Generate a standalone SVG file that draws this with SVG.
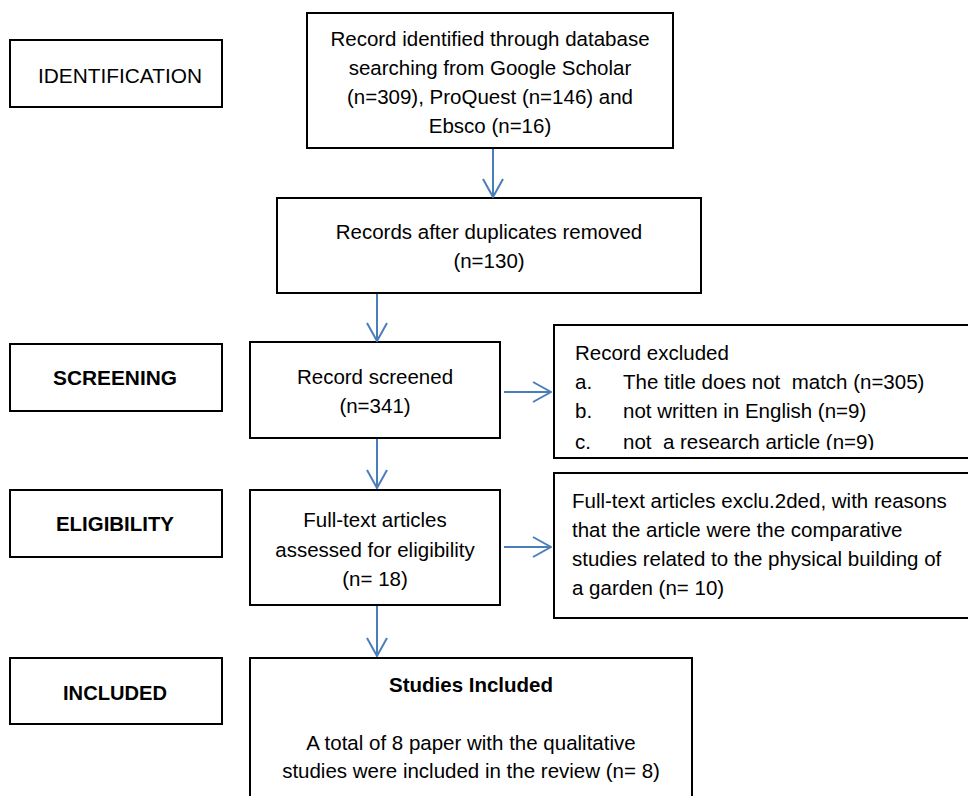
<svg xmlns="http://www.w3.org/2000/svg" width="968" height="796" viewBox="0 0 968 796">
<style>
.box{fill:#fff;stroke:#000;stroke-width:2}
text{font-family:"Liberation Sans",Arial,sans-serif;font-size:20.5px;fill:#000}
.c{text-anchor:middle}
.b{font-weight:bold}
.con{stroke:#4a7ebb;stroke-width:2;fill:none;marker-end:url(#ah)}
</style>
<defs>
<marker id="ah" markerUnits="userSpaceOnUse" viewBox="0 0 20 22" refX="19" refY="11" markerWidth="20" markerHeight="22" orient="auto">
<path d="M1,1 L19,11 L1,21" fill="none" stroke="#4a7ebb" stroke-width="2"/>
</marker>
<clipPath id="clipEx"><rect x="554" y="325" width="420" height="125"/></clipPath>
</defs>

<g id="identification">
<rect class="box" x="10" y="40" width="212" height="67"/>
<text x="38" y="83" font-size="27" textLength="164" lengthAdjust="spacingAndGlyphs">IDENTIFICATION</text>
</g>
<g id="screening">
<rect class="box" x="10" y="344" width="212" height="67"/>
<text x="53" y="385" font-size="23" font-weight="bold" textLength="124" lengthAdjust="spacingAndGlyphs">SCREENING</text>
</g>
<g id="eligibility">
<rect class="box" x="10" y="490" width="212" height="67"/>
<text x="56" y="531" font-size="23" font-weight="bold" textLength="118" lengthAdjust="spacingAndGlyphs">ELIGIBILITY</text>
</g>
<g id="included">
<rect class="box" x="10" y="658" width="212" height="66"/>
<text x="63" y="700" font-size="23" font-weight="bold" textLength="104" lengthAdjust="spacingAndGlyphs">INCLUDED</text>
</g>

<g id="identified">
<rect class="box" x="307" y="13" width="366" height="135"/>
<text class="c" x="490" y="46">Record identified through database</text>
<text class="c" x="490" y="75">searching from Google Scholar</text>
<text class="c" x="490" y="104">(n=309), ProQuest (n=146) and</text>
<text class="c" x="490" y="133">Ebsco (n=16)</text>
</g>
<g id="duplicates">
<rect class="box" x="277" y="198" width="424" height="95"/>
<text class="c" x="489" y="239">Records after duplicates removed</text>
<text class="c" x="489" y="268">(n=130)</text>
</g>
<g id="screened">
<rect class="box" x="250" y="342" width="250" height="96"/>
<text class="c" x="375" y="384">Record screened</text>
<text class="c" x="375" y="413">(n=341)</text>
</g>
<g id="fulltext">
<rect class="box" x="250" y="490" width="250" height="115"/>
<text class="c" x="375" y="527">Full-text articles</text>
<text class="c" x="375" y="556.5">assessed for eligibility</text>
<text class="c" x="375" y="586">(n= 18)</text>
</g>
<g id="excluded">
<rect class="box" x="554" y="325" width="420" height="133"/>
<g clip-path="url(#clipEx)">
<text x="575" y="360">Record excluded</text>
<text x="575" y="389">a.</text><text x="623" y="389" xml:space="preserve">The title does not  match (n=305)</text>
<text x="575" y="418">b.</text><text x="623" y="418">not written in English (n=9)</text>
<text x="575" y="449">c.</text><text x="623" y="449" xml:space="preserve">not  a research article (n=9)</text>
</g>
</g>
<g id="ftexcluded">
<rect class="box" x="554" y="473" width="420" height="145"/>
<text x="572" y="508">Full-text articles exclu.2ded, with reasons</text>
<text x="572" y="537">that the article were the comparative</text>
<text x="572" y="566">studies related to the physical building of</text>
<text x="572" y="595">a garden (n= 10)</text>
</g>
<g id="studies">
<rect class="box" x="250" y="658" width="442" height="150"/>
<text class="c b" x="471" y="692">Studies Included</text>
<text class="c" x="471" y="750">A total of 8 paper with the qualitative</text>
<text class="c" x="471" y="778">studies were included in the review (n= 8)</text>
</g>

<g id="connectors">
<line class="con" x1="493" y1="149" x2="493" y2="197"/>
<line class="con" x1="377" y1="294" x2="377" y2="341"/>
<line class="con" x1="377" y1="439" x2="377" y2="488"/>
<line class="con" x1="377" y1="606" x2="377" y2="656"/>
<line class="con" x1="504" y1="392" x2="551" y2="392"/>
<line class="con" x1="504" y1="547" x2="551" y2="547"/>
</g>
</svg>
